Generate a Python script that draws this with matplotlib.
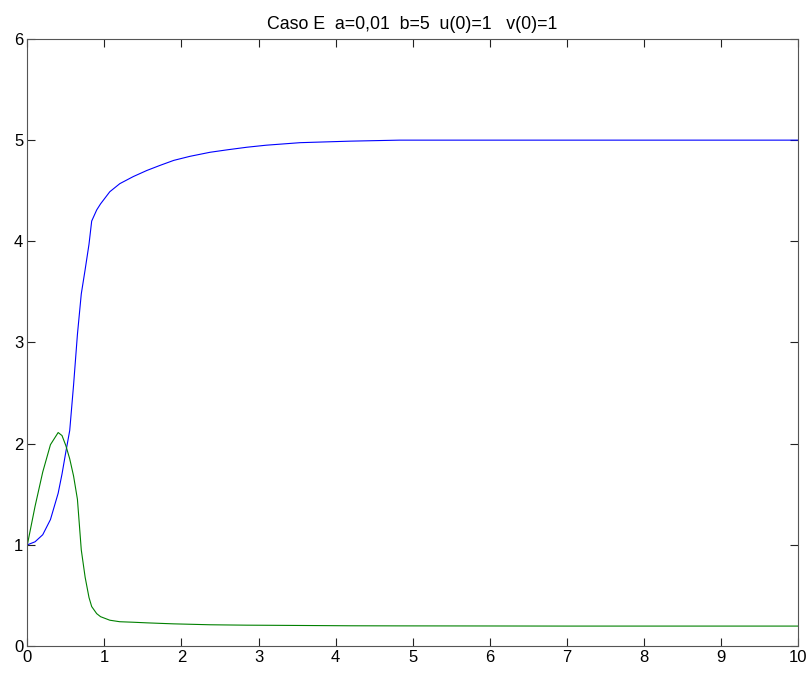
import matplotlib
matplotlib.use('Agg')
import matplotlib.pyplot as plt

# solution samples: time, u(t) (blue), v(t) (green)
t = [0, 0.1, 0.2, 0.3, 0.4, 0.45, 0.5, 0.55, 0.6, 0.65, 0.7, 0.75, 0.8,
     0.835, 0.9, 0.95, 1.07, 1.2, 1.375, 1.55, 1.72, 1.9, 2.11, 2.37, 2.6,
     2.85, 3.1, 3.54, 4.19, 4.83, 6, 7, 8, 9, 10]
u = [1.0, 1.03, 1.10, 1.25, 1.51, 1.70, 1.92, 2.13, 2.58, 3.08, 3.48, 3.72,
     3.97, 4.20, 4.31, 4.37, 4.49, 4.57, 4.64, 4.70, 4.75, 4.80, 4.84, 4.88,
     4.905, 4.93, 4.95, 4.975, 4.99, 5.0, 5.0, 5.0, 5.0, 5.0, 5.0]
v = [1.0, 1.38, 1.72, 1.99, 2.11, 2.08, 1.98, 1.85, 1.68, 1.45, 0.95, 0.68,
     0.48, 0.39, 0.32, 0.29, 0.255, 0.24, 0.235, 0.229, 0.224, 0.219, 0.215,
     0.21, 0.208, 0.206, 0.205, 0.203, 0.2, 0.199, 0.198, 0.197, 0.197,
     0.197, 0.197]

x_ticks = list(range(0, 11))
y_ticks = list(range(0, 7))

plt.rcParams['font.family'] = ['Liberation Sans', 'DejaVu Sans']

fig = plt.figure(figsize=(8.11, 6.73), dpi=100)
ax = fig.add_axes([0.0337, 0.0401, 0.9503, 0.902])

ax.plot(t, u, color=(0, 0, 1), lw=0.8)
ax.plot(t, v, color=(0, 0.5, 0), lw=0.8)

ax.set_xlim(0, 10)
ax.set_ylim(0, 6)
ax.set_xticks(x_ticks)
ax.set_yticks(y_ticks)
ax.tick_params(direction='in', top=True, right=True, length=6,
               width=0.8, color='#222222', labelsize=12, pad=3)
for s in ax.spines.values():
    s.set_color('#555555')
    s.set_linewidth(0.8)

ax.set_title('Caso E  a=0,01  b=5  u(0)=1   v(0)=1', fontsize=12.8, pad=7)

fig.savefig('out.png', dpi=100)
